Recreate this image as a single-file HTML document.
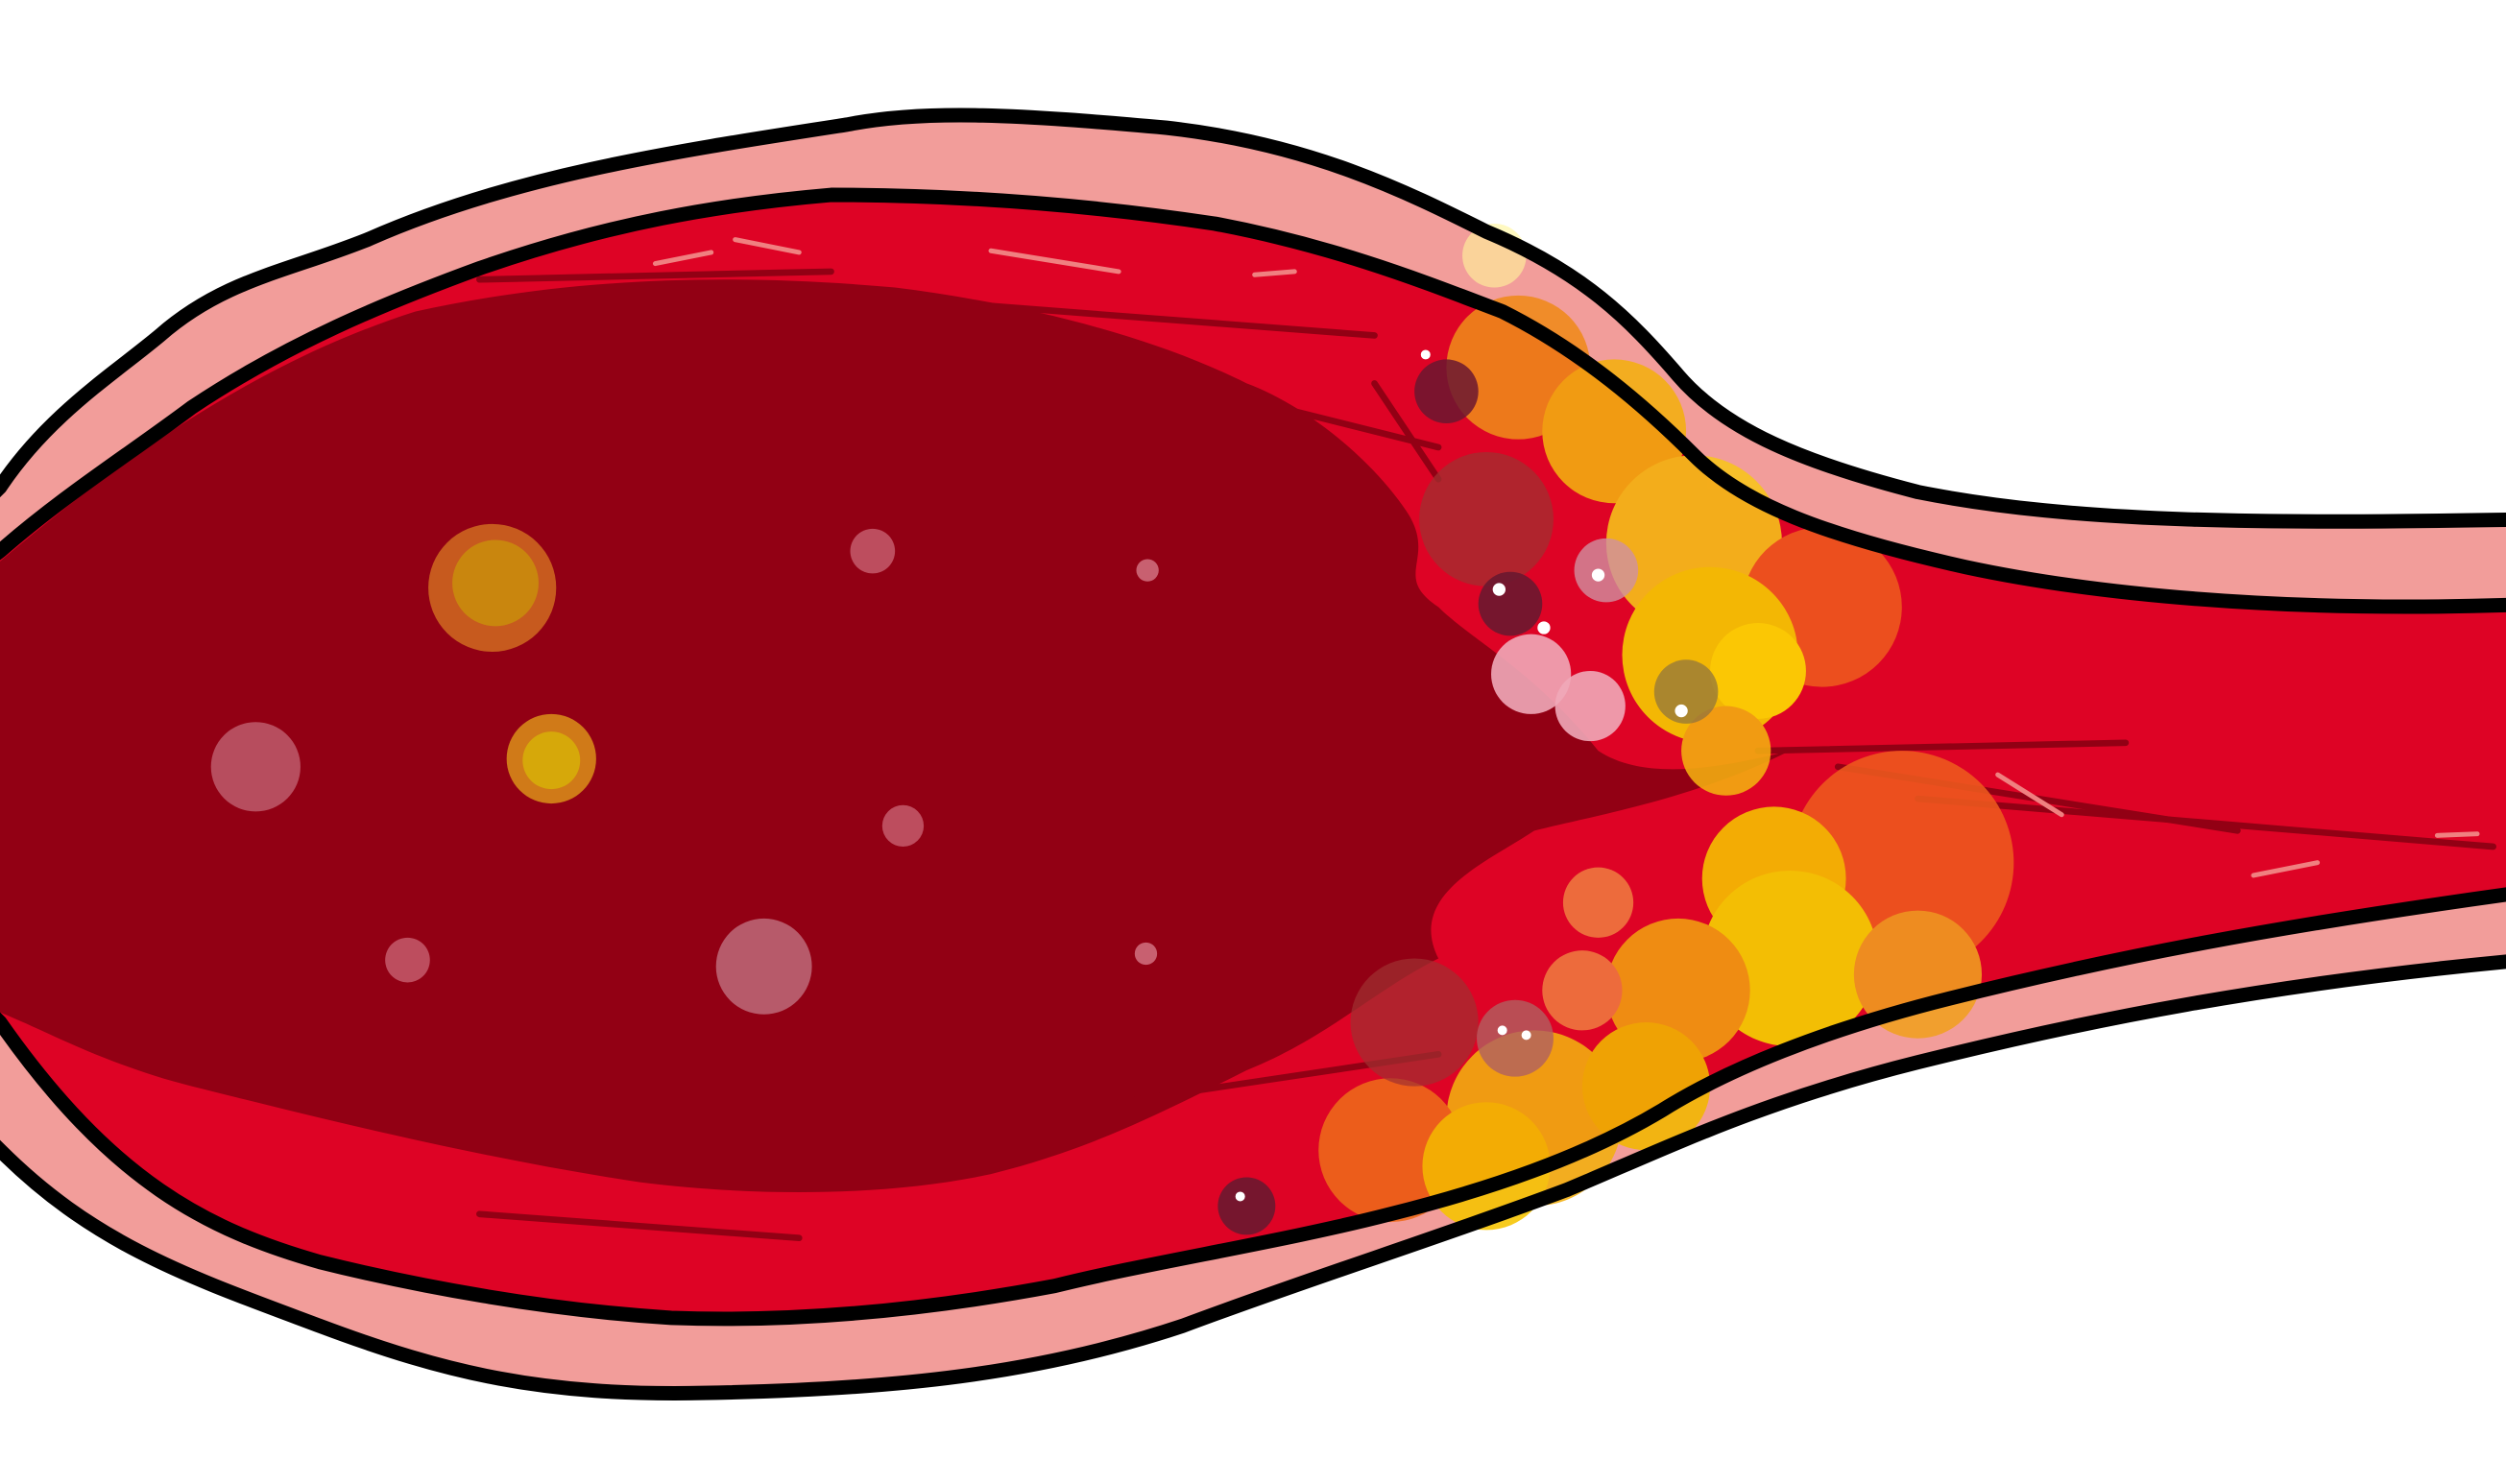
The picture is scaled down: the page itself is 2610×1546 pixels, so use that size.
<!DOCTYPE html>
<html>
<head>
<meta charset="utf-8">
<style>
html,body{margin:0;padding:0;background:#fff;}
svg{display:block;}
</style>
</head>
<body>
<svg width="2610" height="1546" viewBox="0 0 1568 929" preserveAspectRatio="none" xmlns="http://www.w3.org/2000/svg">
  <defs>
    <path id="outerPath" d="M-20,325 L0,305 C30,260 70,235 100,210 C140,175 180,170 230,150 C320,110 420,95 530,78 C580,68 640,72 730,80 C820,90 880,120 930,145 C990,170 1020,200 1050,235 C1080,270 1130,290 1200,308 C1300,328 1420,328 1590,325
       L1590,600 C1420,615 1300,640 1200,665 C1100,690 1040,720 980,745 C900,775 820,800 740,830 C650,860 560,870 440,872 C340,874 280,860 200,830 C120,800 60,780 0,720 L-20,700 Z"/>
    <path id="lumenPath" d="M-20,360 L0,345 C40,310 80,285 120,255 C180,215 240,190 300,168 C380,140 450,128 520,122 C600,122 680,128 760,140 C840,155 900,180 940,195 C990,220 1030,255 1060,285 C1090,315 1140,335 1230,355 C1300,370 1420,385 1590,378
       L1590,557 C1420,580 1320,600 1220,625 C1140,645 1080,670 1040,695 C990,725 930,745 870,760 C800,778 720,790 660,805 C580,820 500,828 420,825 C340,820 260,805 200,790 C130,770 70,740 0,640 L-20,620 Z"/>
  </defs>
  <rect width="1568" height="929" fill="#ffffff"/>
  <use href="#outerPath" fill="#f29d9a"/>
  <use href="#lumenPath" fill="#de0325"/>
  <path fill="#920014"
    d="M-10,360 C60,300 150,230 260,195 C350,175 450,170 560,180 C640,190 720,210 780,240 C820,255 860,290 880,320 C900,350 870,360 900,380 C920,400 960,420 1000,470 C1030,490 1080,480 1120,470 C1060,500 1000,510 960,520 C930,540 880,560 900,600 C860,620 830,650 780,670 C720,700 680,720 620,735 C560,748 480,750 400,740 C300,725 200,700 120,680 C60,665 20,640 -10,630 Z"/>
  <g stroke="#920014" stroke-width="4" fill="none" stroke-linecap="round">
    <path d="M300,175 L520,170"/><path d="M600,190 L860,210"/><path d="M700,230 L900,280"/>
    <path d="M1100,470 L1330,465"/><path d="M1150,480 L1400,520"/><path d="M1200,500 L1560,530"/>
    <path d="M700,690 L900,660"/><path d="M300,760 L500,775"/><path d="M860,240 L900,300"/>
  </g>
  <g stroke="#f08080" stroke-width="3" fill="none" stroke-linecap="round">
    <path d="M460,150 L500,158"/><path d="M620,157 L700,170"/><path d="M410,165 L445,158"/><path d="M785,172 L810,170"/>
    <path d="M1250,485 L1290,510"/><path d="M1410,548 L1450,540"/><path d="M1525,523 L1550,522"/>
  </g>
  <g opacity="0.88">
    <circle cx="935" cy="160" r="20" fill="#fff59a" opacity="0.7"/>
    <circle cx="950" cy="230" r="45" fill="#f08a1a"/>
    <circle cx="1010" cy="270" r="45" fill="#f4b010"/>
    <circle cx="1060" cy="340" r="55" fill="#f7c51a"/>
    <circle cx="1140" cy="380" r="50" fill="#ee5a1e"/>
    <circle cx="1070" cy="410" r="55" fill="#f6d000"/>
    <circle cx="1100" cy="420" r="30" fill="#ffe300"/>
    <circle cx="1080" cy="470" r="28" fill="#f4b010"/>
    <circle cx="1190" cy="540" r="70" fill="#ee5a1e"/>
    <circle cx="1110" cy="550" r="45" fill="#f6c400"/>
    <circle cx="1120" cy="600" r="55" fill="#f7d800"/>
    <circle cx="1200" cy="610" r="40" fill="#f1a020"/>
    <circle cx="1050" cy="620" r="45" fill="#f2a010"/>
    <circle cx="990" cy="620" r="25" fill="#f07a40"/>
    <circle cx="1000" cy="565" r="22" fill="#f07a40"/>
    <circle cx="960" cy="700" r="55" fill="#f3b010"/>
    <circle cx="870" cy="720" r="45" fill="#ee6a1a"/>
    <circle cx="930" cy="730" r="40" fill="#f6c400"/>
    <circle cx="1030" cy="680" r="40" fill="#f2b800"/>
  </g>
  <g>
    <circle cx="308" cy="368" r="40" fill="#d06a20" opacity="0.85"/>
    <circle cx="310" cy="365" r="27" fill="#c9860e"/>
    <circle cx="345" cy="475" r="28" fill="#d07a18"/>
    <circle cx="345" cy="476" r="18" fill="#d6a80a"/>
    <circle cx="160" cy="480" r="28" fill="#c06070" opacity="0.8"/>
    <circle cx="546" cy="345" r="14" fill="#c86070" opacity="0.8"/>
    <circle cx="565" cy="517" r="13" fill="#c86070" opacity="0.8"/>
    <circle cx="255" cy="601" r="14" fill="#c86070" opacity="0.8"/>
    <circle cx="478" cy="605" r="30" fill="#c07080" opacity="0.8"/>
    <circle cx="718" cy="357" r="7" fill="#c86070"/>
    <circle cx="717" cy="597" r="7" fill="#c86070"/>
    <circle cx="930" cy="325" r="42" fill="#a03030" opacity="0.75"/>
    <circle cx="905" cy="245" r="20" fill="#6a1830" opacity="0.85"/>
    <circle cx="945" cy="378" r="20" fill="#6a1830" opacity="0.9"/>
    <circle cx="1005" cy="357" r="20" fill="#d090a0" opacity="0.8"/>
    <circle cx="958" cy="422" r="25" fill="#f0a8b8" opacity="0.9"/>
    <circle cx="995" cy="442" r="22" fill="#f0a8b8" opacity="0.9"/>
    <circle cx="1055" cy="433" r="20" fill="#8a7040" opacity="0.7"/>
    <circle cx="885" cy="640" r="40" fill="#a03030" opacity="0.7"/>
    <circle cx="948" cy="650" r="24" fill="#b06060" opacity="0.8"/>
    <circle cx="780" cy="755" r="18" fill="#6a1830" opacity="0.9"/>
    <circle cx="1000" cy="360" r="4" fill="#fff"/><circle cx="938" cy="369" r="4" fill="#fff"/>
    <circle cx="1052" cy="445" r="4" fill="#fff"/><circle cx="776" cy="749" r="3" fill="#fff"/>
    <circle cx="940" cy="645" r="3" fill="#fff"/><circle cx="955" cy="648" r="3" fill="#fff"/>
    <circle cx="892" cy="222" r="3" fill="#fff"/><circle cx="966" cy="393" r="4" fill="#fff"/>
  </g>
  <use href="#outerPath" fill="none" stroke="#000" stroke-width="9" stroke-linejoin="round"/>
  <use href="#lumenPath" fill="none" stroke="#000" stroke-width="9" stroke-linejoin="round"/>
</svg>
</body>
</html>
